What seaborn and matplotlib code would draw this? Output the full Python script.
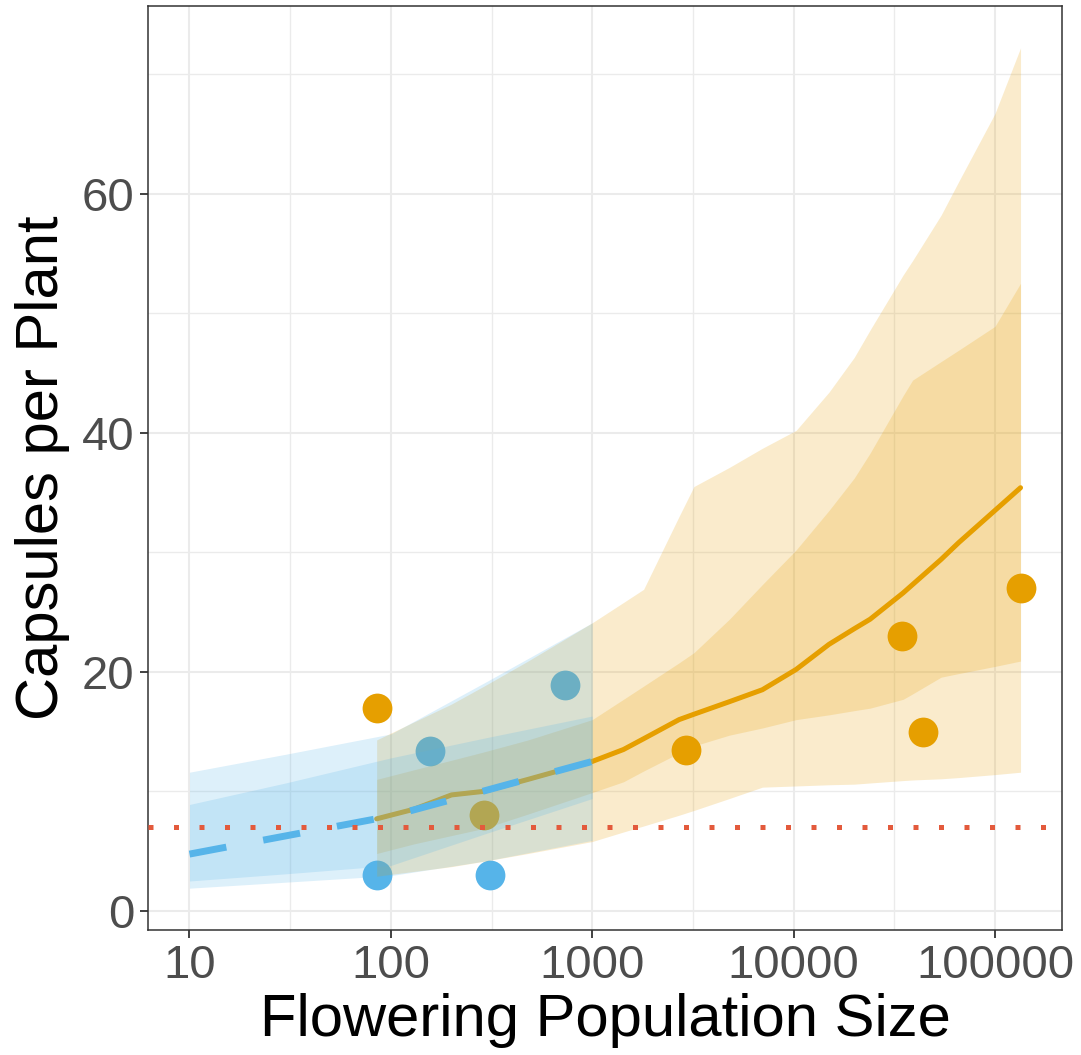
import numpy as np
import pandas as pd
import matplotlib
matplotlib.use("Agg")
import matplotlib.pyplot as plt
import seaborn as sns
from matplotlib.ticker import FixedLocator, NullFormatter

# ---------------- data ----------------
# observed populations
blue_pop = [85, 156, 309, 735]
blue_caps = [3.0, 13.4, 3.0, 18.9]
orange_pop = [85, 290, 2910, 34400, 44000, 134000]
orange_caps = [17.0, 8.0, 13.5, 23.0, 15.0, 27.0]

# blue model prediction (10 - 1000)
blue_grid = [10, 30, 100, 300, 1000]
blue_fit = [4.75, 6.27, 7.93, 10.1, 12.5]
blue_in_lo = [2.5, 3.1, 3.8, 6.5, 9.4]
blue_in_hi = [8.9, 10.7, 12.8, 14.5, 16.3]
blue_out_lo = [1.9, 2.4, 2.95, 4.2, 5.9]
blue_out_hi = [11.6, 13.1, 14.8, 19.2, 24.1]

# orange model prediction (85 - 134000)
orange_grid = [85, 130, 200, 290, 480, 1000, 1430, 1800, 2700, 3200, 4800,
               7000, 10300, 15000, 20000, 24000, 35000, 39000, 54000, 66000,
               100000, 134000]
orange_fit = [7.7, 8.5, 9.7, 10.0, 11.0, 12.5, 13.5, 14.4, 16.0, 16.45, 17.5,
              18.5, 20.2, 22.3, 23.6, 24.4, 26.6, 27.3, 29.4, 30.8, 33.5, 35.4]
orange_in_lo = [4.8, 5.6, 6.3, 6.9, 8.1, 9.9, 10.8, 11.7, 13.2, 13.8, 14.7,
                15.3, 16.0, 16.4, 16.75, 16.96, 17.7, 18.15, 19.55, 19.85,
                20.45, 20.9]
orange_in_hi = [11.0, 11.8, 12.6, 13.3, 14.3, 16.0, 17.7, 18.8, 20.75, 21.6,
                24.4, 27.3, 30.2, 33.5, 36.2, 38.3, 43.1, 44.4, 45.95, 46.9,
                48.9, 52.5]
orange_out_lo = [2.9, 3.3, 3.7, 4.15, 4.8, 5.8, 6.6, 7.1, 8.0, 8.4, 9.4,
                 10.35, 10.45, 10.55, 10.6, 10.7, 10.9, 10.95, 11.05, 11.15,
                 11.4, 11.6]
orange_out_hi = [14.3, 15.8, 17.3, 18.8, 20.9, 24.1, 25.8, 26.9, 33.0, 35.5,
                 37.1, 38.7, 40.2, 43.4, 46.3, 48.6, 53.2, 54.4, 58.2, 61.0,
                 66.7, 72.2]

threshold = 7

x_ticks = [10, 100, 1000, 10000, 100000]
x_tick_labels = ["10", "100", "1000", "10000", "100000"]
y_ticks = [0, 20, 40, 60]
x_title = "Flowering Population Size"
y_title = "Capsules per Plant"

# ---------------- style ----------------
BLUE = "#56B4E9"
ORANGE = "#E69F00"
RED = "#E35A3C"

sns.set_style("white")
plt.rcParams["font.family"] = ["Liberation Sans", "DejaVu Sans"]

W, H = 1081, 1055
fig = plt.figure(figsize=(W / 100, H / 100), dpi=100)
ax = fig.add_axes([148 / W, 1 - 930 / H, (1062 - 148) / W, (930 - 6) / H])
ax.set_xscale("log")

# points (below everything)
sns.scatterplot(x=blue_pop, y=blue_caps, color=BLUE, s=460, linewidth=0,
                zorder=2, ax=ax, legend=False)
sns.scatterplot(x=orange_pop, y=orange_caps, color=ORANGE, s=460, linewidth=0,
                zorder=2, ax=ax, legend=False)

# orange fit + ribbons
sns.lineplot(x=orange_grid, y=orange_fit, color=ORANGE, linewidth=3.6,
             estimator=None, zorder=2.5, ax=ax, legend=False)
ax.fill_between(orange_grid, orange_out_lo, orange_out_hi, color=ORANGE,
                alpha=0.2, linewidth=0, zorder=3)
ax.fill_between(orange_grid, orange_in_lo, orange_in_hi, color=ORANGE,
                alpha=0.2, linewidth=0, zorder=3)

# blue ribbons + dashed fit
ax.fill_between(blue_grid, blue_out_lo, blue_out_hi, color=BLUE,
                alpha=0.2, linewidth=0, zorder=4)
ax.fill_between(blue_grid, blue_in_lo, blue_in_hi, color=BLUE,
                alpha=0.2, linewidth=0, zorder=4)
sns.lineplot(x=blue_grid, y=blue_fit, color=BLUE, linewidth=5.0,
             linestyle=(0, (5.4, 5.4)), estimator=None, zorder=5, ax=ax,
             legend=False)

# threshold dotted line
ax.axhline(threshold, color=RED, linewidth=3.6, linestyle=(0, (1, 4.1)),
           dash_capstyle="butt", zorder=6)

# axes
ax.set_xlim(10 ** 0.794, 10 ** 5.333)
ax.set_ylim(-1.6, 75.7)
ax.xaxis.set_major_locator(FixedLocator(x_ticks))
ax.set_xticklabels(x_tick_labels)
ax.xaxis.set_minor_locator(FixedLocator([10 ** (k + 0.5) for k in range(0, 6)]))
ax.xaxis.set_minor_formatter(NullFormatter())
ax.yaxis.set_major_locator(FixedLocator(y_ticks))
ax.yaxis.set_minor_locator(FixedLocator([10, 30, 50, 70]))

ax.set_axisbelow(True)
ax.grid(which="major", color="#EBEBEB", linewidth=1.5)
ax.grid(which="minor", color="#EBEBEB", linewidth=1.0)

for s in ax.spines.values():
    s.set_color("#333333")
    s.set_linewidth(1.1)

ax.tick_params(which="major", length=6, width=1.3, color="#333333",
               labelsize=34, labelcolor="#4D4D4D", pad=4,
               bottom=True, left=True)
ax.tick_params(which="minor", length=0)

ax.set_xlabel(x_title, fontsize=43, color="black", labelpad=4)
ax.set_ylabel(y_title, fontsize=43, color="black", labelpad=8)

fig.savefig("out.png", dpi=100)
